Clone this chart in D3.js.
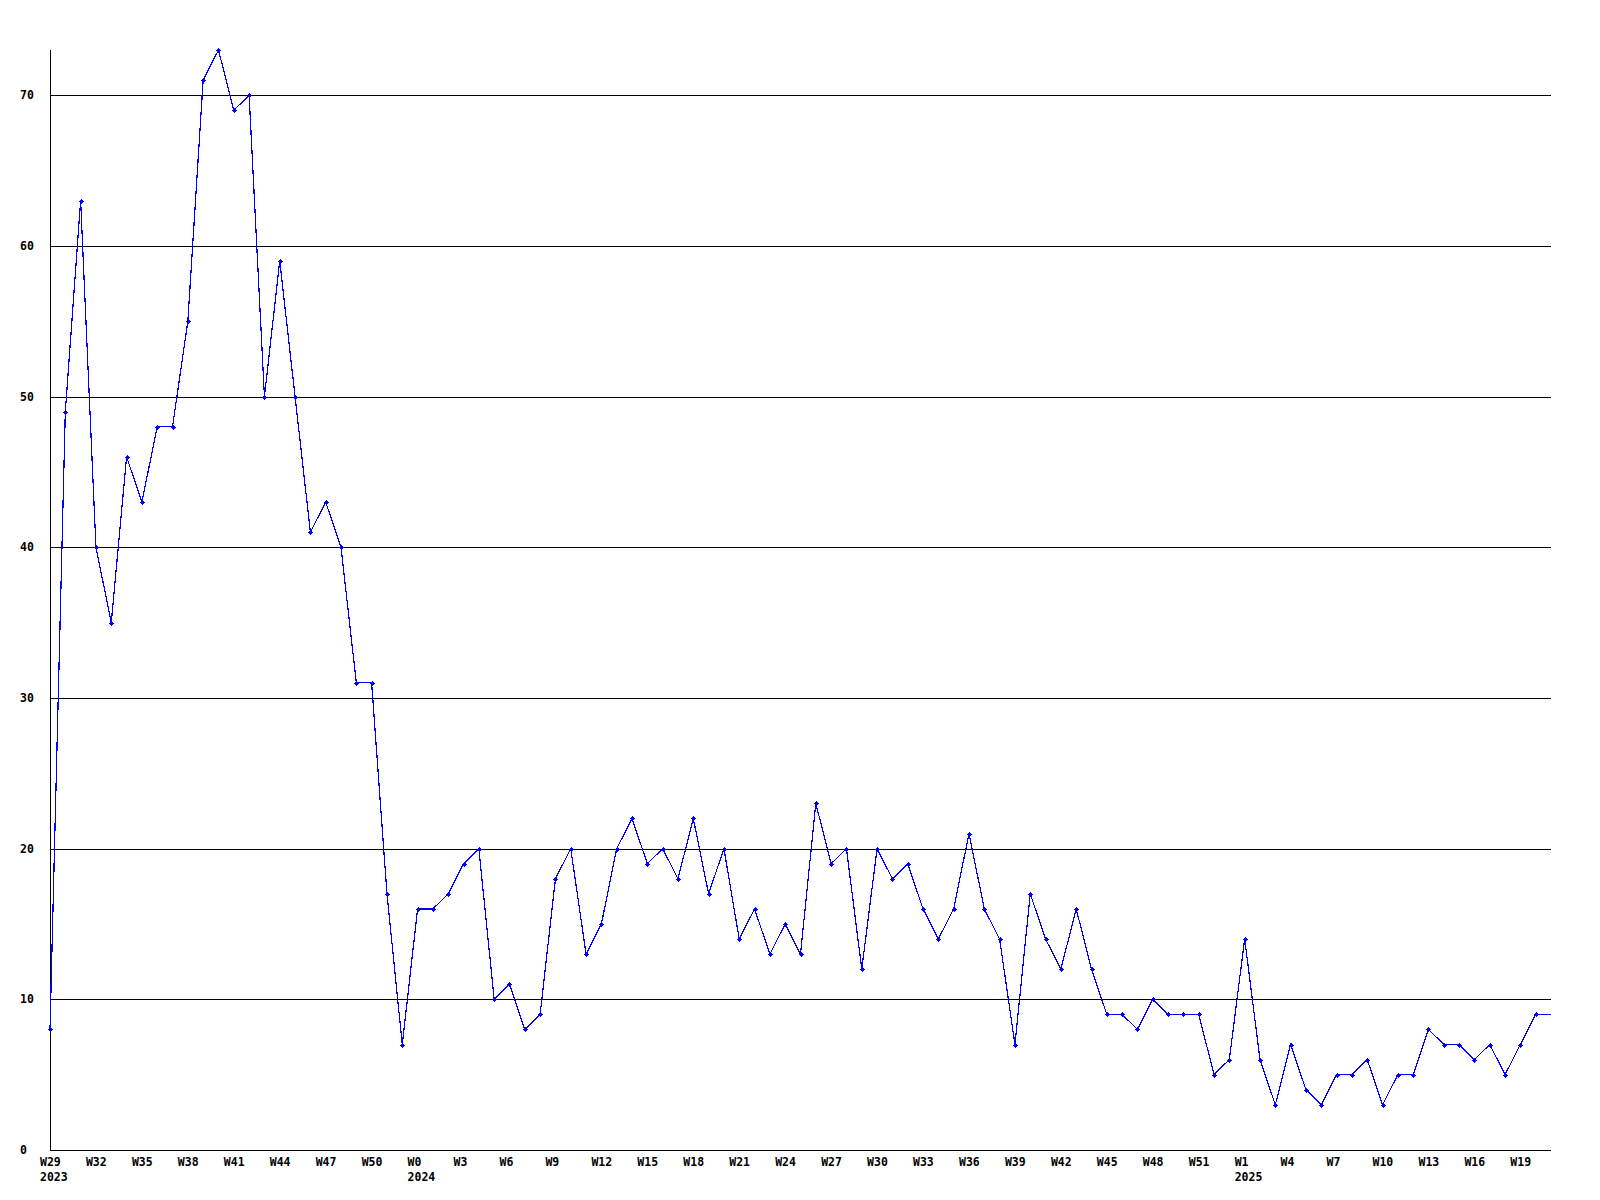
<!DOCTYPE html>
<html>
<head>
<meta charset="utf-8">
<script src="https://cdn.jsdelivr.net/npm/d3@7"></script>
<style>
  html, body { margin: 0; padding: 0; background: #fff; }
  svg { display: block; }
  text { font-family: "DejaVu Sans Mono", "Liberation Mono", monospace; font-weight: bold; font-size: 11.5px; fill: #000; }
</style>
</head>
<body>
<script>
// ---- data ----
const weeks = [
  "W29","W30","W31","W32","W33","W34","W35","W36","W37","W38","W39","W40","W41","W42","W43","W44","W45","W46","W47","W48","W49","W50","W51","W52",
  "W0","W1","W2","W3","W4","W5","W6","W7","W8","W9","W10","W11","W12","W13","W14","W15","W16","W17","W18","W19","W20","W21","W22","W23","W24","W25","W26","W27","W28","W29","W30","W31","W32","W33","W34","W35","W36","W37","W38","W39","W40","W41","W42","W43","W44","W45","W46","W47","W48","W49","W50","W51","W52",
  "W0","W1","W2","W3","W4","W5","W6","W7","W8","W9","W10","W11","W12","W13","W14","W15","W16","W17","W18","W19","W20","W21"
];
const years = [
  2023,2023,2023,2023,2023,2023,2023,2023,2023,2023,2023,2023,2023,2023,2023,2023,2023,2023,2023,2023,2023,2023,2023,2023,
  2024,2024,2024,2024,2024,2024,2024,2024,2024,2024,2024,2024,2024,2024,2024,2024,2024,2024,2024,2024,2024,2024,2024,2024,2024,2024,2024,2024,2024,2024,2024,2024,2024,2024,2024,2024,2024,2024,2024,2024,2024,2024,2024,2024,2024,2024,2024,2024,2024,2024,2024,2024,2024,
  2025,2025,2025,2025,2025,2025,2025,2025,2025,2025,2025,2025,2025,2025,2025,2025,2025,2025,2025,2025,2025,2025
];
const values = [
  8,49,63,40,35,46,43,48,48,55,71,73,69,70,50,59,50,41,43,40,31,31,17,7,
  16,16,17,19,20,10,11,8,9,18,20,13,15,20,22,19,20,18,22,17,20,14,16,13,15,13,23,19,20,12,20,18,19,16,14,16,21,16,14,7,17,14,12,16,12,9,9,8,10,9,9,9,5,
  6,14,6,3,7,4,3,5,5,6,3,5,5,8,7,7,6,7,5,7,9,9
];
const yTicks = [0,10,20,30,40,50,60,70];

// ---- chart ----
const W = 1600, H = 1200;
const mLeft = 50, mRight = 1551, mTop = 50, mBottom = 1150;
const keys = weeks.map((w, i) => years[i] + "-" + w);

const svg = d3.select("body").append("svg").attr("width", W).attr("height", H);

const x = d3.scalePoint().domain(keys).range([mLeft, mRight]);
const y = d3.scaleLinear().domain([0, 73]).range([mBottom, mTop]);

// gridlines
const grid = svg.append("g").attr("shape-rendering", "crispEdges");
grid.selectAll("line.g").data(yTicks.filter(d => d > 0)).join("line")
  .attr("x1", mLeft).attr("x2", mRight)
  .attr("y1", d => Math.round(y(d)) + 0.5).attr("y2", d => Math.round(y(d)) + 0.5)
  .attr("stroke", "#000").attr("stroke-width", 1);

// y labels
svg.append("g").selectAll("text").data(yTicks).join("text")
  .attr("x", 20).attr("y", d => y(d)).attr("dy", "0.35em")
  .text(d => d);

// axes lines
grid.append("line").attr("x1", mLeft + 0.5).attr("x2", mLeft + 0.5).attr("y1", mTop).attr("y2", mBottom + 0.5)
  .attr("stroke", "#000");
grid.append("line").attr("x1", mLeft).attr("x2", mRight).attr("y1", mBottom + 0.5).attr("y2", mBottom + 0.5)
  .attr("stroke", "#000");

// x labels: every 3rd week
const labelIdx = keys.map((k, i) => i).filter(i => i % 3 === 0);
const xl = svg.append("g");
xl.selectAll("text.wk").data(labelIdx).join("text")
  .attr("class", "wk")
  .attr("x", i => x(keys[i]) - 10).attr("y", 1162).attr("dy", "0.35em")
  .text(i => weeks[i]);
// year label under first labelled week of each year
const firstOfYear = labelIdx.filter((i, n) => n === 0 || years[labelIdx[n - 1]] !== years[i]);
xl.selectAll("text.yr").data(firstOfYear).join("text")
  .attr("class", "yr")
  .attr("x", i => x(keys[i]) - 10).attr("y", 1177).attr("dy", "0.35em")
  .text(i => years[i]);

// line
const line = d3.line().x((d, i) => x(keys[i])).y(d => y(d));
svg.append("path").datum(values)
  .attr("d", line)
  .attr("fill", "none").attr("stroke", "#0000ff").attr("stroke-width", 1.2)
  .attr("shape-rendering", "crispEdges");

// markers (last point sits on the plot edge, no marker)
const marker = "M-2.5,-0.5h5v1h-5z M-0.5,-2.5h1v5h-1z M-1.5,-1.5h3v3h-3z";
svg.append("g").selectAll("path").data(values.slice(0, values.length - 1)).join("path")
  .attr("transform", (d, i) => `translate(${Math.round(x(keys[i]))},${Math.round(y(d))})`)
  .attr("d", marker)
  .attr("fill", "#0000ff")
  .attr("shape-rendering", "crispEdges");
</script>
</body>
</html>
